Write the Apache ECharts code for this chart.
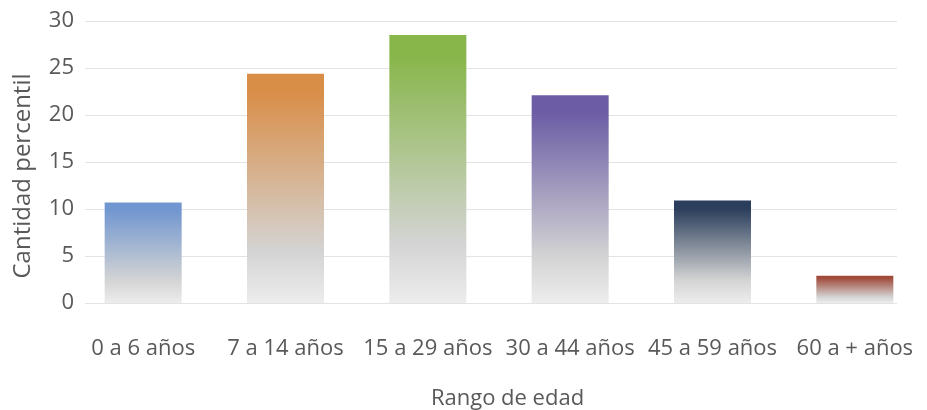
<!DOCTYPE html>
<html>
<head>
<meta charset="utf-8">
<script src="https://cdn.jsdelivr.net/npm/echarts@6/dist/echarts.min.js"></script>
<style>
html,body{margin:0;padding:0;background:#fff;}
#chart{width:927px;height:410px;}
</style>
</head>
<body>
<div id="chart"></div>
<script>
const categories = ['0 a 6 años', '7 a 14 años', '15 a 29 años', '30 a 44 años', '45 a 59 años', '60 a + años'];
const values = [10.7, 24.4, 28.5, 22.1, 10.9, 2.9];
const barColors = ['#7297d0', '#d98e48', '#88b64a', '#6b5ca5', '#2b3e5c', '#a04a3a'];
const yTicks = [0, 5, 10, 15, 20, 25, 30];
const yTitle = 'Cantidad percentil';
const xTitle = 'Rango de edad';

const textColor = '#595959';
const font = 'Open Sans';

function grad(c) {
  return new echarts.graphic.LinearGradient(0, 0, 0, 1, [
    { offset: 0, color: c },
    { offset: 0.08, color: c },
    { offset: 0.78, color: '#d4d4d4' },
    { offset: 1, color: '#ededed' }
  ]);
}

const chart = echarts.init(document.getElementById('chart'), null, { renderer: 'canvas' });
chart.setOption({
  animation: false,
  backgroundColor: '#fff',
  grid: [
    { left: 85, right: 30, top: 21, bottom: 107, outerBoundsMode: 'none', containLabel: false },
    { left: 72, right: 1, top: 21, bottom: 107, outerBoundsMode: 'none', containLabel: false }
  ],
  graphic: [{
    type: 'text',
    x: 23, y: 176,
    rotation: Math.PI / 2,
    style: {
      text: yTitle, fill: textColor, font: '24px "Open Sans"',
      align: 'center', verticalAlign: 'middle'
    }
  }],
  xAxis: [
    { gridIndex: 0, type: 'value', show: false, min: 0, max: 1 },
    {
      gridIndex: 1, type: 'category', data: categories,
      axisLine: { show: false }, axisTick: { show: false },
      axisLabel: { color: textColor, fontFamily: font, fontSize: 22, margin: 35, interval: 0, hideOverlap: false },
      name: xTitle, nameLocation: 'middle', nameGap: 85,
      nameTextStyle: { color: textColor, fontFamily: font, fontSize: 22, padding: [0, 0, 0, 17] }
    }
  ],
  yAxis: [
    {
      gridIndex: 0, type: 'value', min: yTicks[0], max: yTicks[yTicks.length - 1], interval: 5,
      axisLine: { show: false }, axisTick: { show: false },
      axisLabel: { color: textColor, fontFamily: font, fontSize: 22, margin: 11 },
      splitLine: { lineStyle: { color: '#e3e3e3', width: 1 } }
    },
    { gridIndex: 1, type: 'value', show: false, min: yTicks[0], max: yTicks[yTicks.length - 1] }
  ],
  series: [{
    type: 'bar',
    xAxisIndex: 1, yAxisIndex: 1,
    barWidth: 77,
    data: values.map((v, i) => ({ value: v, itemStyle: { color: grad(barColors[i]) } }))
  }]
});
</script>
</body>
</html>
